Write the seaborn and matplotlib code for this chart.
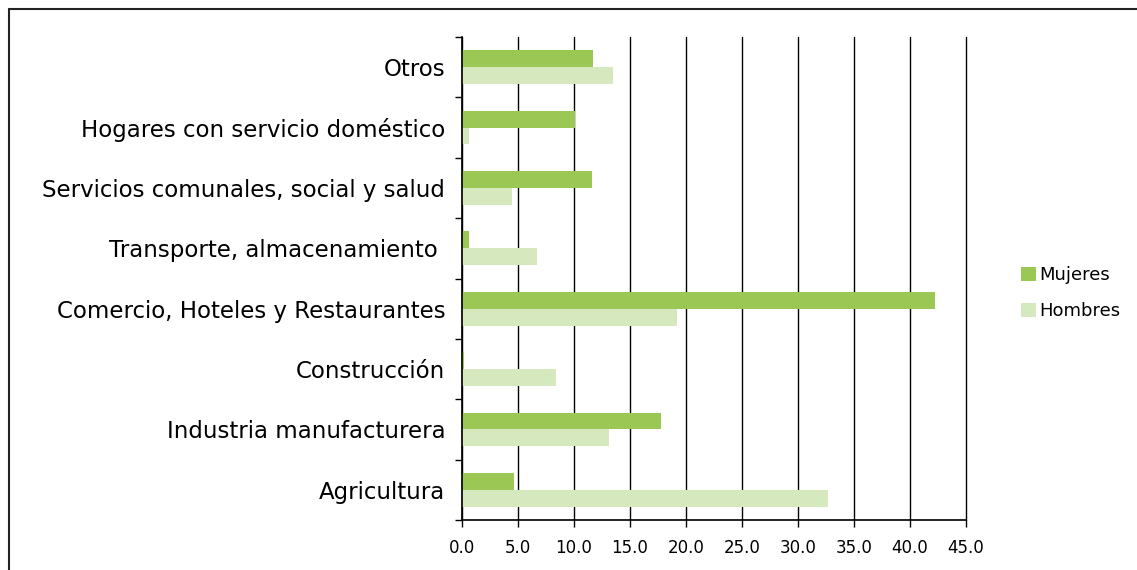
import matplotlib
matplotlib.use("Agg")
import matplotlib.pyplot as plt
import seaborn as sns
import pandas as pd
import numpy as np
from matplotlib.lines import Line2D
from matplotlib.patches import Patch

categorias = ["Otros", "Hogares con servicio doméstico", "Servicios comunales, social y salud",
              "Transporte, almacenamiento ", "Comercio, Hoteles y Restaurantes", "Construcción",
              "Industria manufacturera", "Agricultura"]
mujeres = [11.7, 10.1, 11.6, 0.6, 42.2, 0.2, 17.8, 4.6]
hombres = [13.5, 0.6, 4.5, 6.7, 19.2, 8.4, 13.1, 32.7]
xticks = [0, 5, 10, 15, 20, 25, 30, 35, 40, 45]

verde = "#9BC755"
verde_claro = "#D6E8BD"

df = pd.DataFrame({
    "cat": categorias * 2,
    "val": mujeres + hombres,
    "sexo": ["Mujeres"] * len(categorias) + ["Hombres"] * len(categorias),
})

sns.set_style("white", {"xtick.bottom": True, "ytick.left": True})
plt.rcParams["font.family"] = ["DejaVu Sans"]
plt.rcParams["text.color"] = "black"
plt.rcParams["xtick.color"] = "black"
plt.rcParams["ytick.color"] = "black"

fig = plt.figure(figsize=(11.37, 5.70), dpi=100)
ax = fig.add_axes([462 / 1137, 1 - 520 / 570, (966 - 462) / 1137, (520 - 37) / 570])

sns.barplot(data=df, y="cat", x="val", hue="sexo", order=categorias,
            hue_order=["Mujeres", "Hombres"], palette=[verde, verde_claro],
            orient="h", width=0.56, saturation=1, linewidth=0, ax=ax, legend=False)

ax.set_xlim(0, 45)
ax.set_ylim(7.5, -0.5)
ax.set_xticks(xticks)
ax.set_xticklabels([f"{v:.1f}" for v in xticks], fontsize=12)
ax.set_xlabel("")
ax.set_ylabel("")
ax.set_yticks(np.arange(-0.5, 8, 1), minor=True)
ax.tick_params(axis="y", which="major", left=False, length=0, labelsize=16.5, pad=12, labelcolor="black")
ax.tick_params(axis="y", which="minor", left=True, length=5, width=1, color="black", direction="out")
ax.tick_params(axis="x", bottom=True, length=5, width=1, color="black", direction="out", pad=9, labelcolor="black")

ax.grid(axis="x", color="black", linewidth=1)
for gl in ax.get_xgridlines():
    gl.set_clip_on(False)
ax.set_axisbelow(True)
for s in ["top", "right"]:
    ax.spines[s].set_visible(False)
for s in ["left", "bottom"]:
    ax.spines[s].set_color("black")
    ax.spines[s].set_linewidth(1.2)

handles = [Patch(facecolor=verde, edgecolor="none"), Patch(facecolor=verde_claro, edgecolor="none")]
fig.legend(handles, ["Mujeres", "Hombres"], loc="center left",
           bbox_to_anchor=(1005 / 1137, 1 - 293 / 570), frameon=False,
           fontsize=13, handlelength=0.8, handleheight=0.8, handletextpad=0.2,
           labelspacing=1.0)

# chart frame (top and left edges visible)
fig.add_artist(Line2D([9 / 1137, 1], [1 - 9 / 570, 1 - 9 / 570], color="#222222", linewidth=1.5))
fig.add_artist(Line2D([9 / 1137, 9 / 1137], [0, 1 - 9 / 570], color="#222222", linewidth=1.5))

fig.savefig("out.png", dpi=100)
